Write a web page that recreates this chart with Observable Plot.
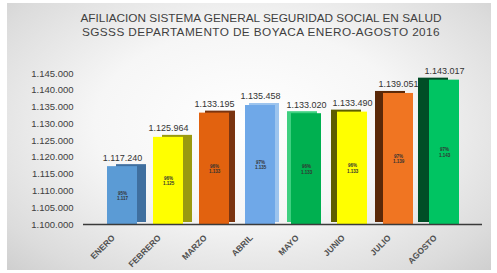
<!DOCTYPE html>
<html>
<head>
<meta charset="utf-8">
<script src="https://cdn.jsdelivr.net/npm/d3@7"></script>
<script src="https://cdn.jsdelivr.net/npm/@observablehq/plot@0.6"></script>
<style>
  html, body { margin: 0; padding: 0; background: #ffffff; }
  #wrap { position: relative; width: 497px; height: 273px; overflow: hidden; font-family: "Liberation Sans", "DejaVu Sans", sans-serif; }
  #frame { position: absolute; left: 7px; top: 3px; width: 484px; height: 267px;
    background: radial-gradient(ellipse at 50% 45%, #ffffff 0%, #f6f6f6 45%, #dcdcdc 85%, #cfcfcf 100%); }
  #title { position: absolute; left: 0; top: 11px; width: 522px; text-align: center; color: #3f3f3f;
    font-size: 11.8px; line-height: 14px; font-family: "Liberation Sans", sans-serif; }
  #title span.l2 { letter-spacing: 0.4px; }
  #chart { position: absolute; left: 0; top: 42px; }
</style>
</head>
<body>
<div id="wrap">
  <div id="frame"></div>
  <div id="title"><span>AFILIACION SISTEMA GENERAL SEGURIDAD SOCIAL EN SALUD</span><br><span class="l2">SGSSS DEPARTAMENTO DE BOYACA ENERO-AGOSTO 2016</span></div>
  <div id="chart"></div>
</div>
<script>
const months = ["ENERO", "FEBRERO", "MARZO", "ABRIL", "MAYO", "JUNIO", "JULIO", "AGOSTO"];
const afiliados = [1117240, 1125964, 1133195, 1135458, 1133020, 1133490, 1139051, 1143017];
const pct = ["95%", "96%", "96%", "97%", "96%", "96%", "97%", "97%"];
const frontColors = ["#5b9bd5", "#ffff00", "#e2620f", "#6fa8e8", "#00b050", "#ffff00", "#f07522", "#00c462"];
const sideColors  = ["#3f6f9f", "#9a9a10", "#7a3410", "#9cc4ee", "#3fd080", "#5e5e00", "#5a2808", "#004d26"];
const sideOffset  = [9, 9, 6, 4, -4, -6, -8, -11];
const yTicks = [1100000, 1105000, 1110000, 1115000, 1120000, 1125000, 1130000, 1135000, 1140000, 1145000];

const fmt = v => d3.format(",")(v).replace(/,/g, ".");
const data = months.map((m, i) => ({month: m, value: afiliados[i], pct: pct[i], front: frontColors[i], side: sideColors[i], off: sideOffset[i]}));

const sideMarks = data.map(d => Plot.barY([d], {x: "month", y1: 1100000, y2: "value", fill: d.side, dx: d.off, dy: -2}));

const chart = Plot.plot({
  width: 497,
  height: 231,
  marginLeft: 83,
  marginRight: 15,
  marginTop: 31,
  marginBottom: 49,
  style: {background: "transparent", fontFamily: "Liberation Sans, sans-serif", color: "#404040"},
  x: {domain: months, paddingInner: 0.35, paddingOuter: 0.485, label: null},
  y: {domain: [1100000, 1145000], label: null},
  marks: [
    ...sideMarks,
    Plot.barY(data, {x: "month", y1: 1100000, y2: "value", fill: "front"}),
    Plot.ruleY([1100000], {stroke: "#3a3a3a", strokeWidth: 1.5}),
    Plot.text(data, {x: "month", y: "value", text: d => fmt(d.value), dy: -9, fontSize: 9, fill: "#333"}),
    Plot.text(data, {x: "month", y: d => (d.value + 1100000) / 2, text: d => d.pct + "\n" + fmt(d.value).slice(0, 5), fontSize: 4.5, fontWeight: "bold", fill: "#333", lineHeight: 1.2}),
    Plot.axisY({ticks: yTicks, tickFormat: fmt, tickSize: 0, tickPadding: 10, fontSize: 9.5, label: null}),
    Plot.axisX({tickSize: 0, tickRotate: -45, tickPadding: 12, dx: -9, fontSize: 8.5, fontWeight: "bold", fill: "#505050", label: null})
  ]
});
document.getElementById("chart").appendChild(chart);
</script>
</body>
</html>
